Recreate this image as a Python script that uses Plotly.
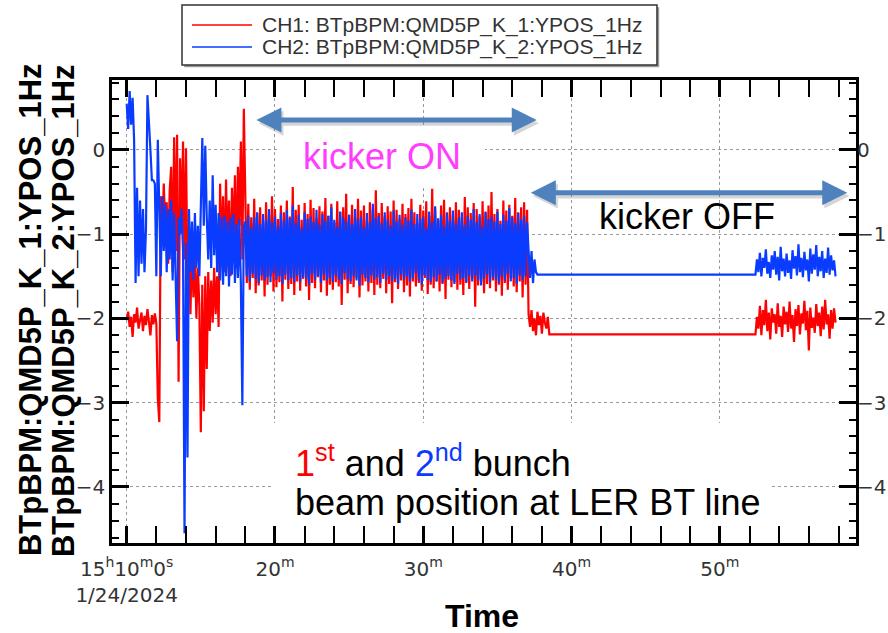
import plotly.graph_objects as go

STEP = 0.1  # minutes between plotted samples

# ---- CH1 : BTpBPM:QMD5P_K_1:YPOS_1Hz (1st bunch) ----
ch1_tune = [  # 15:10.0 - 15:17.9, injection tuning
    -2.02, -1.92, -2.10, -1.98, -2.22, -1.95, -2.05, -1.87, -2.12, -2.00,
    -1.93, -2.15, -1.97, -2.08, -1.89, -2.04, -2.20, -1.96, -2.07, -1.94,
    -2.06, -2.95, -3.23, -0.55, -1.05, -0.40, -0.92, -0.62, -1.35, -0.48,
    -0.20, -1.45, 0.15, -1.20, 0.18, -2.75, -0.10, -0.95, 0.10, -1.30,
    0.02, -1.55, -0.90, -1.95, -1.10, -1.75, -1.25, -2.00, -1.40, -1.85,
    -3.35, -1.60, -3.10, -1.50, -2.60, -1.45, -2.15, -1.55, -2.05, -1.40,
    -1.95, -1.50, -2.10, -0.40, -1.30, -0.55, -1.45, -0.35, -1.20, -0.60,
    -1.50, -0.45, -1.10, -0.30, -1.40, -0.20, -0.90, 0.10, -1.30, 0.49,
]
ch1_on = [  # 15:18.0 - 15:37.0, kicker ON
    -0.72, -1.58, -0.64, -1.66, -0.80, -1.52, -0.58, -1.70, -0.75, -1.61,
    -0.68, -1.55, -0.85, -1.74, -0.62, -1.60, -0.77, -1.50, -0.55, -1.68,
    -0.70, -1.63, -0.82, -1.57, -0.66, -1.80, -0.74, -1.54, -0.60, -1.65,
    -0.79, -1.59, -0.44, -1.72, -0.71, -1.56, -0.65, -1.67, -0.83, -1.53,
    -0.63, -1.62, -0.76, -1.78, -0.59, -1.58, -0.69, -1.64, -0.81, -1.51,
    -0.67, -1.69, -0.73, -1.55, -0.57, -1.73, -0.78, -1.60, -0.64, -1.66,
    -0.86, -1.57, -0.61, -1.62, -0.74, -1.84, -0.68, -1.54, -0.52, -1.70,
    -0.77, -1.59, -0.65, -1.63, -0.80, -1.52, -0.58, -1.75, -0.72, -1.61,
    -0.66, -1.56, -0.84, -1.68, -0.62, -1.58, -0.70, -1.72, -0.48, -1.60,
    -0.75, -1.64, -0.63, -1.53, -0.79, -1.70, -0.67, -1.59, -0.73, -1.82,
    -0.60, -1.57, -0.71, -1.65, -0.82, -1.55, -0.64, -1.69, -0.76, -1.61,
    -0.69, -1.74, -0.58, -1.56, -0.74, -1.62, -0.87, -1.58, -0.65, -1.67,
    -0.72, -1.52, -0.61, -1.71, -0.78, -1.60, -0.46, -1.64, -0.70, -1.56,
    -0.83, -1.68, -0.66, -1.59, -0.59, -1.77, -0.74, -1.54, -0.68, -1.63,
    -0.77, -1.57, -0.62, -1.66, -0.71, -1.60, -0.80, -1.72, -0.56, -1.58,
    -0.68, -1.65, -0.75, -1.53, -0.63, -1.86, -0.70, -1.61, -0.79, -1.57,
    -0.61, -1.70, -0.73, -1.59, -0.66, -1.64, -0.50, -1.55, -0.76, -1.68,
    -0.70, -1.60, -0.84, -1.73, -0.60, -1.58, -0.72, -1.66, -0.65, -1.52,
    -0.78, -1.62, -0.57, -1.69, -0.74, -1.56, -0.68, -1.75, -0.62, -1.60,
    -0.71,
]
ch1_off_a = [  # 15:37.1 - 15:38.5, kicker OFF
    -1.95, -2.10, -1.90, -2.15, -2.00, -2.20, -1.92, -2.08, -1.97, -2.18,
    -1.93, -2.05, -2.12, -1.98, -2.19,
]
ch1_hold_t = [38.6, 52.4]   # no beam: last value held
ch1_hold = [-2.19, -2.19]
ch1_off_b = [  # 15:52.5 - 15:57.8, kicker OFF
    -1.98, -2.12, -1.85, -2.20, -1.90, -2.08, -1.78, -2.15, -1.93, -2.25,
    -1.88, -2.05, -1.95, -2.18, -1.82, -2.10, -1.97, -2.22, -1.86, -2.07,
    -1.92, -2.16, -1.80, -2.12, -1.96, -2.28, -1.89, -2.09, -1.84, -2.19,
    -1.94, -2.06, -1.79, -2.14, -1.91, -2.38, -1.87, -2.11, -1.99, -2.17,
    -1.83, -2.09, -1.93, -2.21, -1.86, -2.13, -1.78, -2.07, -1.95, -2.24,
    -1.90, -2.12, -1.88, -2.05,
]

# ---- CH2 : BTpBPM:QMD5P_K_2:YPOS_1Hz (2nd bunch) ----
ch2_tune = [
    0.55, 0.25, 0.70, 0.30, 0.62, 0.12, -1.58, -0.45, -1.50, -0.60,
    -1.35, -0.70, -1.45, -0.95, 0.65, 0.24, 0.00, -0.36, -0.36, -0.40,
    -1.50, 0.12, -0.60, -1.50, -0.55, -1.20, -0.65, -1.45, -0.70, -1.30,
    -0.60, -1.55, -0.75, -1.40, -2.27, -0.80, -1.00, -0.70, -1.20, -4.55,
    -1.10, -3.65, -0.70, -1.45, -0.85, -1.54, -0.75, -1.40, -0.90, -1.50,
    -0.70, 0.14, -0.90, 0.05, -0.80, -1.30, -0.60, -1.40, -0.30, -1.25,
    -0.65, -1.45, -0.75, -1.55, -0.80, -1.60, -0.78, -1.50, -0.85, -1.62,
    -0.80, -1.48, -0.76, -1.58, -0.88, -1.52, -0.82, -1.60, -3.03, -0.90,
]
ch2_on = [
    -0.85, -1.50, -0.78, -1.56, -0.92, -1.47, -0.80, -1.53, -0.74, -1.58,
    -0.88, -1.49, -0.76, -1.55, -0.83, -1.51, -0.70, -1.57, -0.86, -1.46,
    -0.79, -1.54, -0.90, -1.50, -0.75, -1.59, -0.84, -1.48, -0.72, -1.55,
    -0.81, -1.52, -0.66, -1.57, -0.87, -1.49, -0.77, -1.56, -0.93, -1.51,
    -0.74, -1.53, -0.82, -1.60, -0.79, -1.47, -0.86, -1.54, -0.71, -1.50,
    -0.89, -1.58, -0.76, -1.48, -0.84, -1.55, -0.78, -1.52, -0.68, -1.57,
    -0.83, -1.49, -0.91, -1.54, -0.73, -1.59, -0.80, -1.46, -0.85, -1.53,
    -0.77, -1.56, -0.88, -1.50, -0.70, -1.55, -0.82, -1.61, -0.79, -1.48,
    -0.92, -1.52, -0.75, -1.57, -0.86, -1.49, -0.64, -1.54, -0.81, -1.51,
    -0.78, -1.58, -0.87, -1.47, -0.74, -1.55, -0.83, -1.50, -0.90, -1.56,
    -0.72, -1.53, -0.85, -1.59, -0.77, -1.48, -0.89, -1.54, -0.80, -1.50,
    -0.84, -1.57, -0.71, -1.52, -0.88, -1.46, -0.76, -1.55, -0.82, -1.60,
    -0.79, -1.49, -0.93, -1.54, -0.73, -1.57, -0.86, -1.51, -0.67, -1.56,
    -0.81, -1.48, -0.77, -1.58, -0.90, -1.53, -0.75, -1.50, -0.84, -1.55,
    -0.72, -1.59, -0.87, -1.47, -0.80, -1.54, -0.74, -1.52, -0.89, -1.57,
    -0.78, -1.50, -0.83, -1.56, -0.70, -1.49, -0.86, -1.55, -0.76, -1.61,
    -0.91, -1.53, -0.74, -1.48, -0.82, -1.57, -0.79, -1.51, -0.85, -1.54,
    -0.73, -1.58, -0.88, -1.50, -0.77, -1.55, -0.84, -1.47, -0.69, -1.56,
    -0.80, -1.52, -0.87, -1.59, -0.75, -1.49, -0.83, -1.55, -0.78, -1.50,
    -0.86,
]
ch2_off_a = [-1.25, -1.52, -1.20, -1.58, -1.30, -1.45, -1.48]
ch2_hold_t = [37.8, 52.4]
ch2_hold = [-1.48, -1.48]
ch2_off_b = [
    -1.30, -1.45, -1.22, -1.50, -1.28, -1.40, -1.18, -1.47, -1.33, -1.52,
    -1.25, -1.42, -1.20, -1.48, -1.27, -1.55, -1.15, -1.44, -1.29, -1.50,
    -1.23, -1.46, -1.31, -1.53, -1.19, -1.41, -1.26, -1.49, -1.12, -1.45,
    -1.28, -1.51, -1.21, -1.43, -1.30, -1.56, -1.17, -1.47, -1.24, -1.42,
    -1.13, -1.50, -1.27, -1.44, -1.20, -1.52, -1.29, -1.46, -1.16, -1.48,
    -1.25, -1.43, -1.31, -1.50,
]

x_tickvals = [10, 20, 30, 40, 50]
x_ticktext = ["15<sup>h</sup>10<sup>m</sup>0<sup>s</sup><br>1/24/2024",
              "20<sup>m</sup>", "30<sup>m</sup>", "40<sup>m</sup>", "50<sup>m</sup>"]
y_tickvals = [0, -1, -2, -3, -4]

CH1_NAME = "CH1: BTpBPM:QMD5P_K_1:YPOS_1Hz"
CH2_NAME = "CH2: BTpBPM:QMD5P_K_2:YPOS_1Hz"
RED = "#ff0000"
BLUE = "#0a3cff"
ARROW = "#4f81bd"


def sampled(t0, values):
    return [round(t0 + STEP * i, 3) for i in range(len(values))], list(values)


def build(parts):
    t, y = [], []
    for tt, yy in parts:
        t += tt
        y += yy
    return t, y


t1, y1 = build([sampled(10.0, ch1_tune), sampled(18.0, ch1_on),
                sampled(37.1, ch1_off_a), (ch1_hold_t, ch1_hold),
                sampled(52.5, ch1_off_b)])
t2, y2 = build([sampled(10.0, ch2_tune), sampled(18.0, ch2_on),
                sampled(37.1, ch2_off_a), (ch2_hold_t, ch2_hold),
                sampled(52.5, ch2_off_b)])

X_RANGE = [9.01, 59.18]
Y_RANGE = [-4.665, 0.83]
TICK_FONT = dict(family="DejaVu Sans", size=20, color="#333333")

fig = go.Figure()
fig.add_trace(go.Scatter(x=t1, y=y1, mode="lines", name=CH1_NAME,
                         line=dict(color=RED, width=2.2), yaxis="y",
                         showlegend=False))
fig.add_trace(go.Scatter(x=t2, y=y2, mode="lines", name=CH2_NAME,
                         line=dict(color=BLUE, width=2.2), yaxis="y2",
                         showlegend=False))

axis_common = dict(showline=True, linecolor="black", linewidth=2.5,
                   ticks="inside", tickcolor="black", tickwidth=2.5,
                   ticklen=17, zeroline=False, tickfont=TICK_FONT,
                   automargin=False)

fig.update_layout(
    template="none",
    width=888, height=633,
    margin=dict(l=112, r=32, t=80, b=90),
    paper_bgcolor="white", plot_bgcolor="white",
    showlegend=False,
    xaxis=dict(range=X_RANGE, tickvals=x_tickvals, ticktext=x_ticktext,
               mirror="allticks", showgrid=True, gridcolor="#9a9a9a",
               gridwidth=1, griddash="dot", ticklabelstandoff=6,
               minor=dict(dtick=2, tick0=10, ticks="inside", ticklen=7,
                          tickwidth=2, tickcolor="black", showgrid=False),
               **axis_common),
    yaxis=dict(range=Y_RANGE, tickvals=y_tickvals, mirror="allticks",
               showgrid=True, gridcolor="#9a9a9a", gridwidth=1, griddash="dot",
               minor=dict(dtick=0.2, tick0=0, ticks="inside", ticklen=7,
                          tickwidth=2, tickcolor="black", showgrid=False),
               **axis_common),
    yaxis2=dict(range=Y_RANGE, tickvals=y_tickvals, overlaying="y",
                side="right", showgrid=False, showline=False, ticks="",
                zeroline=False, tickfont=TICK_FONT, automargin=False),
)

# white panels behind the text blocks (above grid, below traces)
fig.add_shape(type="rect", xref="x", yref="y", x0=20.34, x1=34.17,
              y0=-0.43, y1=0.30, fillcolor="white", line_width=0,
              layer="between")
fig.add_shape(type="rect", xref="x", yref="y", x0=19.8, x1=53.5,
              y0=-4.64, y1=-3.24, fillcolor="white", line_width=0,
              layer="between")

# legend box
LX0, LX1, LY0, LY1 = 0.0941, 0.7325, 1.0324, 1.162
fig.add_shape(type="rect", xref="paper", yref="paper", x0=LX0 + 0.003,
              x1=LX1 + 0.003, y0=LY0 - 0.005, y1=LY1 - 0.005,
              fillcolor="#9a9a9a", line_width=0)
fig.add_shape(type="rect", xref="paper", yref="paper", x0=LX0, x1=LX1,
              y0=LY0, y1=LY1, fillcolor="white",
              line=dict(color="#333333", width=1.5))
for ly, col, name in [(1.1188, RED, CH1_NAME), (1.0713, BLUE, CH2_NAME)]:
    fig.add_shape(type="line", xref="paper", yref="paper", x0=0.1075,
                  x1=0.1882, y0=ly, y1=ly, line=dict(color=col, width=1.5))
    fig.add_annotation(xref="paper", yref="paper", x=0.1989, y=ly,
                       xanchor="left", yanchor="middle", showarrow=False,
                       text=name,
                       font=dict(family="Liberation Sans", size=21,
                                 color="#333333"))

# double arrows marking the kicker ON / OFF periods
for (xa, xb, ya) in [(18.65, 37.65, 0.356), (37.15, 58.59, -0.507)]:
    fig.add_annotation(xref="x", yref="y", axref="x", ayref="y",
                       x=xb + 0.14, y=ya - 0.04, ax=xa + 0.14, ay=ya - 0.04,
                       text="", showarrow=True, arrowside="end+start",
                       arrowhead=2, startarrowhead=2, arrowsize=1,
                       startarrowsize=1, arrowwidth=5,
                       arrowcolor="rgba(70,70,70,0.22)")
    fig.add_annotation(xref="x", yref="y", axref="x", ayref="y",
                       x=xb, y=ya, ax=xa, ay=ya, text="", showarrow=True,
                       arrowside="end+start", arrowhead=2, startarrowhead=2,
                       arrowsize=1, startarrowsize=1, arrowwidth=5,
                       arrowcolor=ARROW)

BIG = dict(family="Liberation Sans", size=36)
fig.add_annotation(xref="x", yref="y", x=27.2, y=-0.083, showarrow=False,
                   xanchor="center", yanchor="middle",
                   text="kicker ON", font=dict(color="#ff3dff", **BIG))
fig.add_annotation(xref="x", yref="y", x=47.78, y=-0.795, showarrow=False,
                   xanchor="center", yanchor="middle",
                   text="kicker OFF", font=dict(color="black", **BIG))
fig.add_annotation(xref="x", yref="y", x=21.22, y=-3.69, xanchor="left",
                   yanchor="middle", showarrow=False,
                   font=dict(color="black", **BIG),
                   text=(f"<span style='color:{RED}'>1<sup>st</sup></span> and "
                         f"<span style='color:{BLUE}'>2<sup>nd</sup></span> bunch"))
fig.add_annotation(xref="x", yref="y", x=21.22, y=-4.19, xanchor="left",
                   yanchor="middle", showarrow=False,
                   font=dict(color="black", **BIG),
                   text="beam position at LER BT line")

# axis titles
TITLE_FONT = dict(family="Liberation Sans", size=31, color="black")
for xp, label in [(-0.1102, "BTpBPM:QMD5P_K_1:YPOS_1Hz"),
                  (-0.0659, "BTpBPM:QMD5P_K_2:YPOS_1Hz")]:
    fig.add_annotation(xref="paper", yref="paper", x=xp, y=0.503,
                       xanchor="center", yanchor="middle",
                       textangle=-90, showarrow=False,
                       text=f"<b>{label}</b>", font=TITLE_FONT)
fig.add_annotation(xref="paper", yref="paper", x=0.497, y=-0.158,
                   xanchor="center", yanchor="middle",
                   showarrow=False, text="<b>Time</b>",
                   font=dict(family="Liberation Sans", size=32, color="black"))

fig.write_html("out.html")
